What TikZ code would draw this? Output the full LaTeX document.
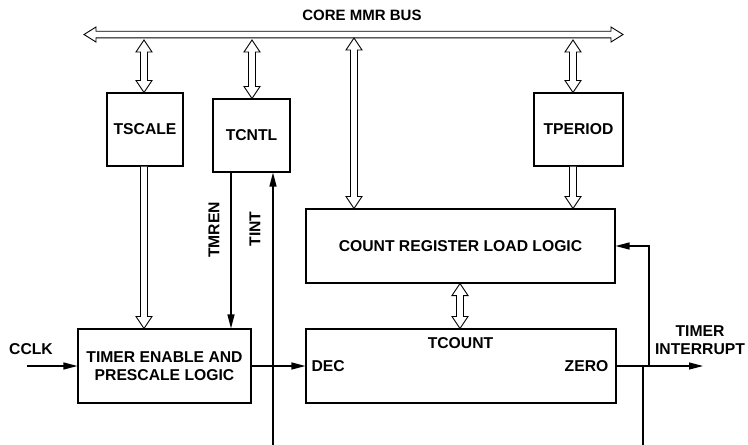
\documentclass[tikz,border=0pt]{standalone}
\usepackage{fontspec}
\setmainfont{Liberation Sans}
\usetikzlibrary{calc,arrows.meta}
\newcommand{\lblfont}{\fontsize{15.7}{17.5}\selectfont\bfseries}
\newcommand{\busfont}{\fontsize{15}{17}\selectfont\bfseries}
% hollow double-headed vertical arrow, #1 top point, #2 bottom point
\newcommand{\hollowVV}[2]{%
  \draw[hollow] let \p1=(#1), \p2=(#2) in
    (\x1,\y1) -- (\x1+8pt,\y1-12pt) -- (\x1+3.5pt,\y1-12pt) -- (\x1+3.5pt,\y2+12pt)
    -- (\x1+8pt,\y2+12pt) -- (\x1,\y2) -- (\x1-8pt,\y2+12pt) -- (\x1-3.5pt,\y2+12pt)
    -- (\x1-3.5pt,\y1-12pt) -- (\x1-8pt,\y1-12pt) -- cycle;}
% hollow single-headed downward arrow
\newcommand{\hollowDown}[2]{%
  \draw[hollow] let \p1=(#1), \p2=(#2) in
    (\x1-3.5pt,\y1) -- (\x1-3.5pt,\y2+12pt) -- (\x1-8pt,\y2+12pt) -- (\x1,\y2)
    -- (\x1+8pt,\y2+12pt) -- (\x1+3.5pt,\y2+12pt) -- (\x1+3.5pt,\y1);}
% hollow double-headed horizontal arrow
\newcommand{\hollowHH}[2]{%
  \draw[hollow] let \p1=(#1), \p2=(#2) in
    (\x1,\y1) -- (\x1+12pt,\y1+7.5pt) -- (\x1+12pt,\y1+3.3pt) -- (\x2-12pt,\y1+3.3pt)
    -- (\x2-12pt,\y1+7.5pt) -- (\x2,\y1) -- (\x2-12pt,\y1-7.5pt) -- (\x2-12pt,\y1-3.3pt)
    -- (\x1+12pt,\y1-3.3pt) -- (\x1+12pt,\y1-7.5pt) -- cycle;}
\begin{document}
\begin{tikzpicture}[x=1pt,y=-1pt,
  box/.style={draw, line width=1.1pt, inner sep=0pt, font=\lblfont, align=center},
  hollow/.style={draw, line width=0.9pt, fill=white, line join=miter},
  sig/.style={line width=1.2pt, -{Triangle[length=14pt,width=7pt]}},
  wire/.style={line width=1.2pt},
  lbl/.style={font=\lblfont, inner sep=0pt, align=center}]
\useasboundingbox (0,0) rectangle (748,445);

% bus
\coordinate (busL) at (84,34.5);
\coordinate (busR) at (623,34.5);
\hollowHH{busL}{busR}
\node[font=\busfont, inner sep=0pt] (buslbl) at (362,15) {CORE MMR BUS};
\coordinate (busbot) at (0,40);
\coordinate (busedge) at (0,38);

% boxes
\node[box, minimum width=76pt, minimum height=73pt] (tscale) at (145,129.5) {TSCALE};
\node[box, minimum width=77pt, minimum height=73pt] (tcntl) at (251.5,135.5) {TCNTL};
\node[box, minimum width=89pt, minimum height=73pt] (tperiod) at (578.5,129.5) {TPERIOD};
\node[box, minimum width=309pt, minimum height=74pt] (crl) at (460.5,246) {COUNT REGISTER LOAD LOGIC};
\node[box, minimum width=173pt, minimum height=74pt] (tepl) at (164.5,366) {TIMER ENABLE AND\\PRESCALE LOGIC};
\node[box, minimum width=310pt, minimum height=74pt] (tcount) at (461,366) {};

% labels inside TCOUNT
\node[lbl] (tcountlbl) at (460.5,343) {TCOUNT};
\node[lbl, anchor=west] (declbl) at ([xshift=6pt]tcount.west) {DEC};
\node[lbl, anchor=east] (zerolbl) at ([xshift=-8pt]tcount.east) {ZERO};

% hollow arrows between bus and registers
\coordinate (xts) at (144,0);
\coordinate (xtc) at (252,0);
\coordinate (xtp) at (573,0);
\coordinate (xc) at (354,0);
\coordinate (xcc) at (460,0);
\hollowVV{xts |- busbot}{xts |- tscale.north}
\hollowVV{xtc |- busbot}{xtc |- tcntl.north}
\hollowVV{xtp |- busbot}{xtp |- tperiod.north}
\hollowVV{xc |- busedge}{xc |- crl.north}
\hollowDown{xtp |- tperiod.south}{xtp |- crl.north}
\hollowDown{xts |- tscale.south}{xts |- tepl.north}
\hollowVV{xcc |- crl.south}{xcc |- tcount.north}

% TMREN and TINT
\coordinate (xtm) at (231,0);
\coordinate (tintsrc) at (273,445);
\draw[sig] (xtm |- tcntl.south) -- (xtm |- tepl.north);
\draw[sig] (tintsrc) -- (tintsrc |- tcntl.south);
\node[lbl, rotate=90] (tmrenlbl) at (214,230) {TMREN};
\node[lbl, rotate=90] (tintlbl) at (255,229) {TINT};

% CCLK
\coordinate (cclksrc) at (27,366);
\draw[sig] (cclksrc) -- (tepl.west);
\node[lbl] (cclklbl) at (31,349) {CCLK};

% timer enable to DEC
\draw[sig] (tepl.east) -- (tcount.west);

% ZERO output and timer interrupt
\coordinate (tiout) at (703,366);
\coordinate (fbx) at (649,366);
\coordinate (botsrc) at (643,445);
\draw[sig] (tcount.east) -- (tiout);
\draw[sig] (fbx) |- (crl.east);
\draw[wire] (botsrc) -- (botsrc |- tcount.east);
\node[lbl] (tilbl) at (700,340) {TIMER\\INTERRUPT};
\end{tikzpicture}
\end{document}
